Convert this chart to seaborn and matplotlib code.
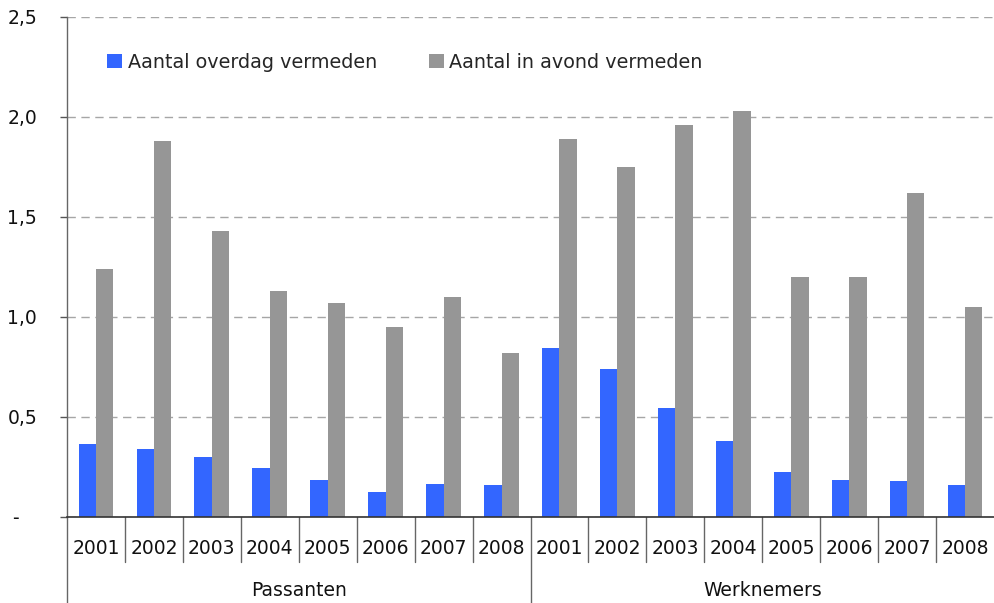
import pandas as pd
import matplotlib.pyplot as plt
import seaborn as sns

# Data
groepen = ['Passanten', 'Werknemers']
jaren = ['2001', '2002', '2003', '2004', '2005', '2006', '2007', '2008']
overdag_passanten = [0.365, 0.34, 0.30, 0.245, 0.185, 0.125, 0.165, 0.16]
avond_passanten = [1.24, 1.88, 1.43, 1.13, 1.07, 0.95, 1.10, 0.82]
overdag_werknemers = [0.845, 0.74, 0.545, 0.38, 0.225, 0.185, 0.18, 0.16]
avond_werknemers = [1.89, 1.75, 1.96, 2.03, 1.20, 1.20, 1.62, 1.05]
series = ['Aantal overdag vermeden', 'Aantal in avond vermeden']
yticks = [0, 0.5, 1.0, 1.5, 2.0, 2.5]
ytick_labels = [' -', '0,5', '1,0', '1,5', '2,0', '2,5']

# Long table for seaborn
rows = []
for g, dag, avond in [(groepen[0], overdag_passanten, avond_passanten),
                      (groepen[1], overdag_werknemers, avond_werknemers)]:
    for j, d, a in zip(jaren, dag, avond):
        rows.append({'cat': g + ' ' + j, 'serie': series[0], 'waarde': d})
        rows.append({'cat': g + ' ' + j, 'serie': series[1], 'waarde': a})
df = pd.DataFrame(rows)
order = [g + ' ' + j for g in groepen for j in jaren]

sns.set_style('white')
plt.rcParams['font.family'] = ['DejaVu Sans']

fig = plt.figure(figsize=(9.94, 6.03), dpi=100)
ax = fig.add_axes([67 / 994, 86 / 603, 927 / 994, 500 / 603])

sns.barplot(data=df, x='cat', y='waarde', hue='serie', order=order,
            hue_order=series, palette=['#3366FF', '#969696'],
            width=0.6, gap=0, saturation=1, linewidth=0, ax=ax)

ax.set_xlim(-0.5, 15.5)
ax.set_ylim(0, 2.5)
ax.set_xlabel('')
ax.set_ylabel('')

# y-axis
ax.set_yticks(yticks)
ax.set_yticklabels(ytick_labels, fontsize=13.5, color='#111111')
plt.setp(ax.get_yticklabels(), ha='left')
ax.tick_params(axis='y', length=5, width=1, color='#555555', pad=38, left=True)
ax.yaxis.grid(True, linestyle=(0, (6, 4)), color='#A6A6A6', linewidth=1)
ax.set_axisbelow(True)

# spines
sns.despine(ax=ax, top=True, right=True)
ax.spines['left'].set_color('#666666')
ax.spines['bottom'].set_color('#333333')
ax.spines['left'].set_linewidth(1)
ax.spines['bottom'].set_linewidth(1.2)

# x-axis: hierarchical labels
ax.set_xticks([])
trans = ax.get_xaxis_transform()
for i in range(16):
    xpos = i - 0.5
    ybot = -0.172 if i in (0, 8) else -0.09
    ax.plot([xpos, xpos], [0, ybot], transform=trans, color='#666666',
            linewidth=1, clip_on=False)
for i, cat in enumerate(order):
    ax.text(i, -0.064, cat.split(' ')[1], transform=trans, ha='center',
            va='center', fontsize=13.5, color='#111111')
for k, g in enumerate(groepen):
    ax.text(3.5 + 8 * k, -0.146, g, transform=trans, ha='center',
            va='center', fontsize=13.5, color='#111111')

# legend
ax.legend(loc='center left', bbox_to_anchor=(0.043, 0.91), ncol=2,
          frameon=False, fontsize=13.8, handlelength=0.78, handleheight=0.8,
          handletextpad=0.3, columnspacing=2.7, borderpad=0,
          borderaxespad=0)

plt.savefig('out.png', dpi=100)
plt.close()
